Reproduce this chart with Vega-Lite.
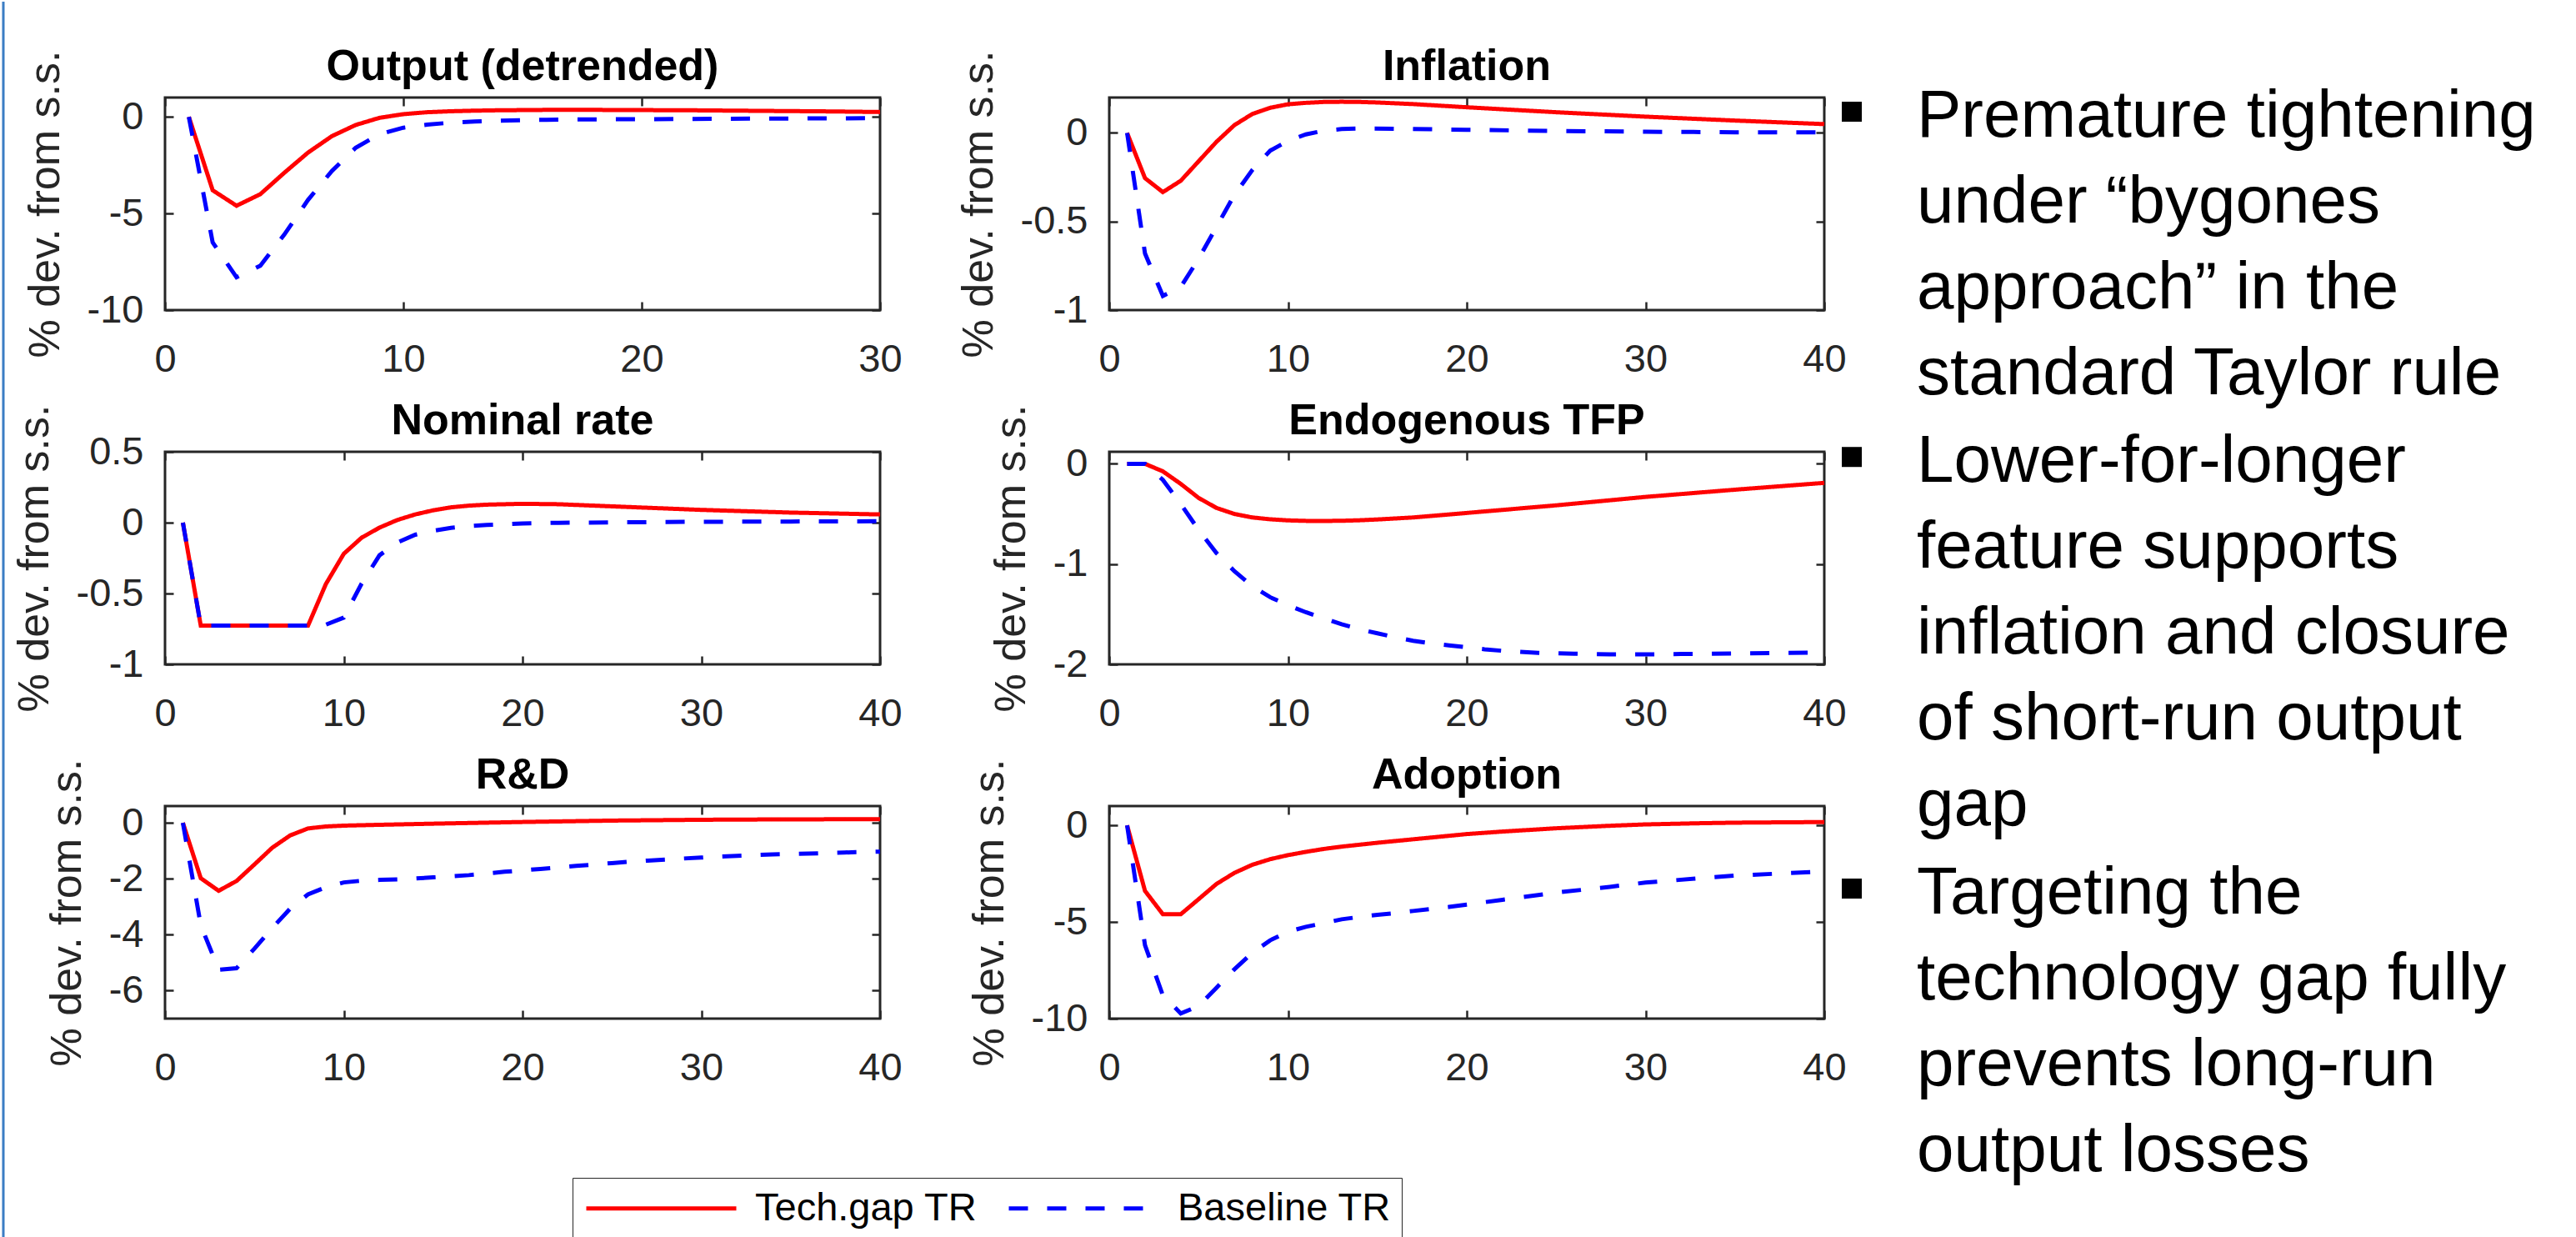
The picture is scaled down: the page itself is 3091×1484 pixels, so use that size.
{
"$schema": "https://vega.github.io/schema/vega-lite/v6.json",
"background": "#ffffff",
"padding": {"left": 2, "top": 0, "right": 0, "bottom": 0},
"spacing": -7,
"config": {
  "font": "Liberation Sans",
  "view": {"stroke": "#262626", "strokeWidth": 3},
  "axis": {"domain": false, "grid": false, "tickSize": -10, "tickWidth": 2.5, "tickColor": "#262626", "labelFont": "Liberation Sans", "labelFontSize": 47, "labelColor": "#262626", "labelFlush": false, "labelOverlap": false, "titleFont": "Liberation Sans", "titleFontSize": 52, "titleFontWeight": "normal", "titleColor": "#262626"},
  "axisBottom": {"labelPadding": 46},
  "axisLeft": {"labelPadding": 36, "titlePadding": 23},
  "title": {"font": "Liberation Sans", "fontSize": 52, "fontWeight": "bold", "color": "#000000", "anchor": "middle", "frame": "group", "baseline": "alphabetic", "offset": -47},
  "line": {"strokeWidth": 5, "strokeCap": "butt"}
},
"datasets": {
  "irf": [
    {"panel":"Output","series":"Tech.gap TR","t":1,"v":0},{"panel":"Output","series":"Tech.gap TR","t":2,"v":-3.8},{"panel":"Output","series":"Tech.gap TR","t":3,"v":-4.6},{"panel":"Output","series":"Tech.gap TR","t":4,"v":-4.0},{"panel":"Output","series":"Tech.gap TR","t":5,"v":-2.9},{"panel":"Output","series":"Tech.gap TR","t":6,"v":-1.85},{"panel":"Output","series":"Tech.gap TR","t":7,"v":-1.0},{"panel":"Output","series":"Tech.gap TR","t":8,"v":-0.42},{"panel":"Output","series":"Tech.gap TR","t":9,"v":-0.05},{"panel":"Output","series":"Tech.gap TR","t":10,"v":0.14},{"panel":"Output","series":"Tech.gap TR","t":11,"v":0.24},{"panel":"Output","series":"Tech.gap TR","t":12,"v":0.29},{"panel":"Output","series":"Tech.gap TR","t":13,"v":0.32},{"panel":"Output","series":"Tech.gap TR","t":14,"v":0.34},{"panel":"Output","series":"Tech.gap TR","t":15,"v":0.35},{"panel":"Output","series":"Tech.gap TR","t":16,"v":0.36},{"panel":"Output","series":"Tech.gap TR","t":18,"v":0.36},{"panel":"Output","series":"Tech.gap TR","t":20,"v":0.35},{"panel":"Output","series":"Tech.gap TR","t":22,"v":0.34},{"panel":"Output","series":"Tech.gap TR","t":24,"v":0.32},{"panel":"Output","series":"Tech.gap TR","t":26,"v":0.3},{"panel":"Output","series":"Tech.gap TR","t":28,"v":0.28},{"panel":"Output","series":"Tech.gap TR","t":30,"v":0.25},
    {"panel":"Output","series":"Baseline TR","t":1,"v":0},{"panel":"Output","series":"Baseline TR","t":2,"v":-6.5},{"panel":"Output","series":"Baseline TR","t":3,"v":-8.3},{"panel":"Output","series":"Baseline TR","t":4,"v":-7.7},{"panel":"Output","series":"Baseline TR","t":5,"v":-6.1},{"panel":"Output","series":"Baseline TR","t":6,"v":-4.3},{"panel":"Output","series":"Baseline TR","t":7,"v":-2.8},{"panel":"Output","series":"Baseline TR","t":8,"v":-1.6},{"panel":"Output","series":"Baseline TR","t":9,"v":-0.9},{"panel":"Output","series":"Baseline TR","t":10,"v":-0.56},{"panel":"Output","series":"Baseline TR","t":11,"v":-0.4},{"panel":"Output","series":"Baseline TR","t":12,"v":-0.3},{"panel":"Output","series":"Baseline TR","t":13,"v":-0.24},{"panel":"Output","series":"Baseline TR","t":14,"v":-0.2},{"panel":"Output","series":"Baseline TR","t":15,"v":-0.17},{"panel":"Output","series":"Baseline TR","t":16,"v":-0.15},{"panel":"Output","series":"Baseline TR","t":18,"v":-0.13},{"panel":"Output","series":"Baseline TR","t":20,"v":-0.12},{"panel":"Output","series":"Baseline TR","t":25,"v":-0.09},{"panel":"Output","series":"Baseline TR","t":30,"v":-0.07},

    {"panel":"Inflation","series":"Tech.gap TR","t":1,"v":0},{"panel":"Inflation","series":"Tech.gap TR","t":2,"v":-0.255},{"panel":"Inflation","series":"Tech.gap TR","t":3,"v":-0.334},{"panel":"Inflation","series":"Tech.gap TR","t":4,"v":-0.27},{"panel":"Inflation","series":"Tech.gap TR","t":5,"v":-0.16},{"panel":"Inflation","series":"Tech.gap TR","t":6,"v":-0.05},{"panel":"Inflation","series":"Tech.gap TR","t":7,"v":0.044},{"panel":"Inflation","series":"Tech.gap TR","t":8,"v":0.107},{"panel":"Inflation","series":"Tech.gap TR","t":9,"v":0.142},{"panel":"Inflation","series":"Tech.gap TR","t":10,"v":0.162},{"panel":"Inflation","series":"Tech.gap TR","t":11,"v":0.17},{"panel":"Inflation","series":"Tech.gap TR","t":12,"v":0.175},{"panel":"Inflation","series":"Tech.gap TR","t":13,"v":0.176},{"panel":"Inflation","series":"Tech.gap TR","t":14,"v":0.175},{"panel":"Inflation","series":"Tech.gap TR","t":15,"v":0.172},{"panel":"Inflation","series":"Tech.gap TR","t":17,"v":0.163},{"panel":"Inflation","series":"Tech.gap TR","t":20,"v":0.145},{"panel":"Inflation","series":"Tech.gap TR","t":25,"v":0.117},{"panel":"Inflation","series":"Tech.gap TR","t":30,"v":0.092},{"panel":"Inflation","series":"Tech.gap TR","t":35,"v":0.07},{"panel":"Inflation","series":"Tech.gap TR","t":40,"v":0.05},
    {"panel":"Inflation","series":"Baseline TR","t":1,"v":0},{"panel":"Inflation","series":"Baseline TR","t":2,"v":-0.68},{"panel":"Inflation","series":"Baseline TR","t":3,"v":-0.92},{"panel":"Inflation","series":"Baseline TR","t":4,"v":-0.87},{"panel":"Inflation","series":"Baseline TR","t":5,"v":-0.71},{"panel":"Inflation","series":"Baseline TR","t":6,"v":-0.53},{"panel":"Inflation","series":"Baseline TR","t":7,"v":-0.35},{"panel":"Inflation","series":"Baseline TR","t":8,"v":-0.21},{"panel":"Inflation","series":"Baseline TR","t":9,"v":-0.1},{"panel":"Inflation","series":"Baseline TR","t":10,"v":-0.045},{"panel":"Inflation","series":"Baseline TR","t":11,"v":-0.008},{"panel":"Inflation","series":"Baseline TR","t":12,"v":0.013},{"panel":"Inflation","series":"Baseline TR","t":13,"v":0.022},{"panel":"Inflation","series":"Baseline TR","t":14,"v":0.025},{"panel":"Inflation","series":"Baseline TR","t":16,"v":0.024},{"panel":"Inflation","series":"Baseline TR","t":18,"v":0.021},{"panel":"Inflation","series":"Baseline TR","t":20,"v":0.018},{"panel":"Inflation","series":"Baseline TR","t":25,"v":0.011},{"panel":"Inflation","series":"Baseline TR","t":30,"v":0.007},{"panel":"Inflation","series":"Baseline TR","t":35,"v":0.004},{"panel":"Inflation","series":"Baseline TR","t":40,"v":0.003},

    {"panel":"Nominal","series":"Tech.gap TR","t":1,"v":0},{"panel":"Nominal","series":"Tech.gap TR","t":2,"v":-0.727},{"panel":"Nominal","series":"Tech.gap TR","t":3,"v":-0.727},{"panel":"Nominal","series":"Tech.gap TR","t":4,"v":-0.727},{"panel":"Nominal","series":"Tech.gap TR","t":5,"v":-0.727},{"panel":"Nominal","series":"Tech.gap TR","t":6,"v":-0.727},{"panel":"Nominal","series":"Tech.gap TR","t":7,"v":-0.727},{"panel":"Nominal","series":"Tech.gap TR","t":8,"v":-0.727},{"panel":"Nominal","series":"Tech.gap TR","t":9,"v":-0.433},{"panel":"Nominal","series":"Tech.gap TR","t":10,"v":-0.22},{"panel":"Nominal","series":"Tech.gap TR","t":11,"v":-0.106},{"panel":"Nominal","series":"Tech.gap TR","t":12,"v":-0.035},{"panel":"Nominal","series":"Tech.gap TR","t":13,"v":0.019},{"panel":"Nominal","series":"Tech.gap TR","t":14,"v":0.058},{"panel":"Nominal","series":"Tech.gap TR","t":15,"v":0.087},{"panel":"Nominal","series":"Tech.gap TR","t":16,"v":0.108},{"panel":"Nominal","series":"Tech.gap TR","t":17,"v":0.12},{"panel":"Nominal","series":"Tech.gap TR","t":18,"v":0.127},{"panel":"Nominal","series":"Tech.gap TR","t":20,"v":0.133},{"panel":"Nominal","series":"Tech.gap TR","t":22,"v":0.13},{"panel":"Nominal","series":"Tech.gap TR","t":25,"v":0.115},{"panel":"Nominal","series":"Tech.gap TR","t":30,"v":0.09},{"panel":"Nominal","series":"Tech.gap TR","t":35,"v":0.071},{"panel":"Nominal","series":"Tech.gap TR","t":40,"v":0.058},
    {"panel":"Nominal","series":"Baseline TR","t":1,"v":0},{"panel":"Nominal","series":"Baseline TR","t":2,"v":-0.727},{"panel":"Nominal","series":"Baseline TR","t":3,"v":-0.727},{"panel":"Nominal","series":"Baseline TR","t":4,"v":-0.727},{"panel":"Nominal","series":"Baseline TR","t":5,"v":-0.727},{"panel":"Nominal","series":"Baseline TR","t":6,"v":-0.727},{"panel":"Nominal","series":"Baseline TR","t":7,"v":-0.727},{"panel":"Nominal","series":"Baseline TR","t":8,"v":-0.727},{"panel":"Nominal","series":"Baseline TR","t":9,"v":-0.72},{"panel":"Nominal","series":"Baseline TR","t":10,"v":-0.67},{"panel":"Nominal","series":"Baseline TR","t":11,"v":-0.43},{"panel":"Nominal","series":"Baseline TR","t":12,"v":-0.23},{"panel":"Nominal","series":"Baseline TR","t":13,"v":-0.14},{"panel":"Nominal","series":"Baseline TR","t":14,"v":-0.085},{"panel":"Nominal","series":"Baseline TR","t":15,"v":-0.057},{"panel":"Nominal","series":"Baseline TR","t":16,"v":-0.037},{"panel":"Nominal","series":"Baseline TR","t":17,"v":-0.024},{"panel":"Nominal","series":"Baseline TR","t":18,"v":-0.016},{"panel":"Nominal","series":"Baseline TR","t":20,"v":-0.006},{"panel":"Nominal","series":"Baseline TR","t":22,"v":-0.001},{"panel":"Nominal","series":"Baseline TR","t":25,"v":0.002},{"panel":"Nominal","series":"Baseline TR","t":30,"v":0.006},{"panel":"Nominal","series":"Baseline TR","t":35,"v":0.008},{"panel":"Nominal","series":"Baseline TR","t":40,"v":0.01},

    {"panel":"TFP","series":"Tech.gap TR","t":1,"v":0},{"panel":"TFP","series":"Tech.gap TR","t":2,"v":0},{"panel":"TFP","series":"Tech.gap TR","t":3,"v":-0.075},{"panel":"TFP","series":"Tech.gap TR","t":4,"v":-0.2},{"panel":"TFP","series":"Tech.gap TR","t":5,"v":-0.34},{"panel":"TFP","series":"Tech.gap TR","t":6,"v":-0.44},{"panel":"TFP","series":"Tech.gap TR","t":7,"v":-0.5},{"panel":"TFP","series":"Tech.gap TR","t":8,"v":-0.535},{"panel":"TFP","series":"Tech.gap TR","t":9,"v":-0.553},{"panel":"TFP","series":"Tech.gap TR","t":10,"v":-0.564},{"panel":"TFP","series":"Tech.gap TR","t":11,"v":-0.569},{"panel":"TFP","series":"Tech.gap TR","t":12,"v":-0.57},{"panel":"TFP","series":"Tech.gap TR","t":13,"v":-0.568},{"panel":"TFP","series":"Tech.gap TR","t":14,"v":-0.563},{"panel":"TFP","series":"Tech.gap TR","t":15,"v":-0.555},{"panel":"TFP","series":"Tech.gap TR","t":17,"v":-0.535},{"panel":"TFP","series":"Tech.gap TR","t":20,"v":-0.49},{"panel":"TFP","series":"Tech.gap TR","t":25,"v":-0.414},{"panel":"TFP","series":"Tech.gap TR","t":30,"v":-0.33},{"panel":"TFP","series":"Tech.gap TR","t":35,"v":-0.258},{"panel":"TFP","series":"Tech.gap TR","t":40,"v":-0.19},
    {"panel":"TFP","series":"Baseline TR","t":1,"v":0},{"panel":"TFP","series":"Baseline TR","t":2,"v":0},{"panel":"TFP","series":"Baseline TR","t":3,"v":-0.16},{"panel":"TFP","series":"Baseline TR","t":4,"v":-0.4},{"panel":"TFP","series":"Baseline TR","t":5,"v":-0.66},{"panel":"TFP","series":"Baseline TR","t":6,"v":-0.89},{"panel":"TFP","series":"Baseline TR","t":7,"v":-1.07},{"panel":"TFP","series":"Baseline TR","t":8,"v":-1.22},{"panel":"TFP","series":"Baseline TR","t":9,"v":-1.33},{"panel":"TFP","series":"Baseline TR","t":10,"v":-1.41},{"panel":"TFP","series":"Baseline TR","t":11,"v":-1.48},{"panel":"TFP","series":"Baseline TR","t":12,"v":-1.54},{"panel":"TFP","series":"Baseline TR","t":13,"v":-1.6},{"panel":"TFP","series":"Baseline TR","t":14,"v":-1.65},{"panel":"TFP","series":"Baseline TR","t":15,"v":-1.69},{"panel":"TFP","series":"Baseline TR","t":16,"v":-1.73},{"panel":"TFP","series":"Baseline TR","t":17,"v":-1.765},{"panel":"TFP","series":"Baseline TR","t":18,"v":-1.79},{"panel":"TFP","series":"Baseline TR","t":19,"v":-1.81},{"panel":"TFP","series":"Baseline TR","t":20,"v":-1.83},{"panel":"TFP","series":"Baseline TR","t":21,"v":-1.85},{"panel":"TFP","series":"Baseline TR","t":22,"v":-1.865},{"panel":"TFP","series":"Baseline TR","t":23,"v":-1.875},{"panel":"TFP","series":"Baseline TR","t":24,"v":-1.885},{"panel":"TFP","series":"Baseline TR","t":25,"v":-1.89},{"panel":"TFP","series":"Baseline TR","t":26,"v":-1.894},{"panel":"TFP","series":"Baseline TR","t":28,"v":-1.9},{"panel":"TFP","series":"Baseline TR","t":30,"v":-1.9},{"panel":"TFP","series":"Baseline TR","t":32,"v":-1.897},{"panel":"TFP","series":"Baseline TR","t":35,"v":-1.892},{"panel":"TFP","series":"Baseline TR","t":38,"v":-1.886},{"panel":"TFP","series":"Baseline TR","t":40,"v":-1.882},

    {"panel":"RD","series":"Tech.gap TR","t":1,"v":0},{"panel":"RD","series":"Tech.gap TR","t":2,"v":-1.98},{"panel":"RD","series":"Tech.gap TR","t":3,"v":-2.43},{"panel":"RD","series":"Tech.gap TR","t":4,"v":-2.08},{"panel":"RD","series":"Tech.gap TR","t":5,"v":-1.49},{"panel":"RD","series":"Tech.gap TR","t":6,"v":-0.89},{"panel":"RD","series":"Tech.gap TR","t":7,"v":-0.45},{"panel":"RD","series":"Tech.gap TR","t":8,"v":-0.2},{"panel":"RD","series":"Tech.gap TR","t":9,"v":-0.13},{"panel":"RD","series":"Tech.gap TR","t":10,"v":-0.1},{"panel":"RD","series":"Tech.gap TR","t":12,"v":-0.07},{"panel":"RD","series":"Tech.gap TR","t":15,"v":-0.03},{"panel":"RD","series":"Tech.gap TR","t":20,"v":0.03},{"panel":"RD","series":"Tech.gap TR","t":25,"v":0.08},{"panel":"RD","series":"Tech.gap TR","t":30,"v":0.11},{"panel":"RD","series":"Tech.gap TR","t":35,"v":0.125},{"panel":"RD","series":"Tech.gap TR","t":40,"v":0.13},
    {"panel":"RD","series":"Baseline TR","t":1,"v":0},{"panel":"RD","series":"Baseline TR","t":2,"v":-3.66},{"panel":"RD","series":"Baseline TR","t":3,"v":-5.25},{"panel":"RD","series":"Baseline TR","t":4,"v":-5.2},{"panel":"RD","series":"Baseline TR","t":5,"v":-4.5},{"panel":"RD","series":"Baseline TR","t":6,"v":-3.76},{"panel":"RD","series":"Baseline TR","t":7,"v":-3.07},{"panel":"RD","series":"Baseline TR","t":8,"v":-2.56},{"panel":"RD","series":"Baseline TR","t":9,"v":-2.3},{"panel":"RD","series":"Baseline TR","t":10,"v":-2.13},{"panel":"RD","series":"Baseline TR","t":11,"v":-2.07},{"panel":"RD","series":"Baseline TR","t":12,"v":-2.04},{"panel":"RD","series":"Baseline TR","t":13,"v":-2.02},{"panel":"RD","series":"Baseline TR","t":14,"v":-1.99},{"panel":"RD","series":"Baseline TR","t":15,"v":-1.95},{"panel":"RD","series":"Baseline TR","t":16,"v":-1.91},{"panel":"RD","series":"Baseline TR","t":17,"v":-1.87},{"panel":"RD","series":"Baseline TR","t":18,"v":-1.81},{"panel":"RD","series":"Baseline TR","t":19,"v":-1.75},{"panel":"RD","series":"Baseline TR","t":20,"v":-1.7},{"panel":"RD","series":"Baseline TR","t":21,"v":-1.65},{"panel":"RD","series":"Baseline TR","t":22,"v":-1.6},{"panel":"RD","series":"Baseline TR","t":23,"v":-1.54},{"panel":"RD","series":"Baseline TR","t":24,"v":-1.49},{"panel":"RD","series":"Baseline TR","t":25,"v":-1.44},{"panel":"RD","series":"Baseline TR","t":26,"v":-1.39},{"panel":"RD","series":"Baseline TR","t":27,"v":-1.35},{"panel":"RD","series":"Baseline TR","t":28,"v":-1.31},{"panel":"RD","series":"Baseline TR","t":30,"v":-1.24},{"panel":"RD","series":"Baseline TR","t":32,"v":-1.18},{"panel":"RD","series":"Baseline TR","t":34,"v":-1.13},{"panel":"RD","series":"Baseline TR","t":36,"v":-1.1},{"panel":"RD","series":"Baseline TR","t":38,"v":-1.06},{"panel":"RD","series":"Baseline TR","t":40,"v":-1.03},

    {"panel":"Adoption","series":"Tech.gap TR","t":1,"v":0},{"panel":"Adoption","series":"Tech.gap TR","t":2,"v":-3.39},{"panel":"Adoption","series":"Tech.gap TR","t":3,"v":-4.6},{"panel":"Adoption","series":"Tech.gap TR","t":4,"v":-4.6},{"panel":"Adoption","series":"Tech.gap TR","t":5,"v":-3.82},{"panel":"Adoption","series":"Tech.gap TR","t":6,"v":-3.03},{"panel":"Adoption","series":"Tech.gap TR","t":7,"v":-2.46},{"panel":"Adoption","series":"Tech.gap TR","t":8,"v":-2.04},{"panel":"Adoption","series":"Tech.gap TR","t":9,"v":-1.75},{"panel":"Adoption","series":"Tech.gap TR","t":10,"v":-1.54},{"panel":"Adoption","series":"Tech.gap TR","t":11,"v":-1.37},{"panel":"Adoption","series":"Tech.gap TR","t":12,"v":-1.22},{"panel":"Adoption","series":"Tech.gap TR","t":13,"v":-1.1},{"panel":"Adoption","series":"Tech.gap TR","t":14,"v":-1.0},{"panel":"Adoption","series":"Tech.gap TR","t":15,"v":-0.9},{"panel":"Adoption","series":"Tech.gap TR","t":17,"v":-0.72},{"panel":"Adoption","series":"Tech.gap TR","t":20,"v":-0.45},{"panel":"Adoption","series":"Tech.gap TR","t":22,"v":-0.32},{"panel":"Adoption","series":"Tech.gap TR","t":25,"v":-0.15},{"panel":"Adoption","series":"Tech.gap TR","t":28,"v":-0.02},{"panel":"Adoption","series":"Tech.gap TR","t":30,"v":0.05},{"panel":"Adoption","series":"Tech.gap TR","t":33,"v":0.11},{"panel":"Adoption","series":"Tech.gap TR","t":35,"v":0.14},{"panel":"Adoption","series":"Tech.gap TR","t":38,"v":0.16},{"panel":"Adoption","series":"Tech.gap TR","t":40,"v":0.17},
    {"panel":"Adoption","series":"Baseline TR","t":1,"v":0},{"panel":"Adoption","series":"Baseline TR","t":2,"v":-6.2},{"panel":"Adoption","series":"Baseline TR","t":3,"v":-8.8},{"panel":"Adoption","series":"Baseline TR","t":4,"v":-9.73},{"panel":"Adoption","series":"Baseline TR","t":5,"v":-9.35},{"panel":"Adoption","series":"Baseline TR","t":6,"v":-8.4},{"panel":"Adoption","series":"Baseline TR","t":7,"v":-7.45},{"panel":"Adoption","series":"Baseline TR","t":8,"v":-6.6},{"panel":"Adoption","series":"Baseline TR","t":9,"v":-5.95},{"panel":"Adoption","series":"Baseline TR","t":10,"v":-5.5},{"panel":"Adoption","series":"Baseline TR","t":11,"v":-5.25},{"panel":"Adoption","series":"Baseline TR","t":12,"v":-5.06},{"panel":"Adoption","series":"Baseline TR","t":13,"v":-4.86},{"panel":"Adoption","series":"Baseline TR","t":14,"v":-4.74},{"panel":"Adoption","series":"Baseline TR","t":15,"v":-4.63},{"panel":"Adoption","series":"Baseline TR","t":16,"v":-4.54},{"panel":"Adoption","series":"Baseline TR","t":17,"v":-4.43},{"panel":"Adoption","series":"Baseline TR","t":18,"v":-4.33},{"panel":"Adoption","series":"Baseline TR","t":19,"v":-4.22},{"panel":"Adoption","series":"Baseline TR","t":20,"v":-4.1},{"panel":"Adoption","series":"Baseline TR","t":22,"v":-3.85},{"panel":"Adoption","series":"Baseline TR","t":25,"v":-3.48},{"panel":"Adoption","series":"Baseline TR","t":28,"v":-3.18},{"panel":"Adoption","series":"Baseline TR","t":30,"v":-2.96},{"panel":"Adoption","series":"Baseline TR","t":33,"v":-2.74},{"panel":"Adoption","series":"Baseline TR","t":35,"v":-2.6},{"panel":"Adoption","series":"Baseline TR","t":38,"v":-2.47},{"panel":"Adoption","series":"Baseline TR","t":40,"v":-2.39}
  ],
  "bullets": [
    {"firstLine": 0, "text": "Premature tightening\nunder “bygones\napproach” in the\nstandard Taylor rule"},
    {"firstLine": 4, "text": "Lower-for-longer\nfeature supports\ninflation and closure\nof short-run output\ngap"},
    {"firstLine": 9, "text": "Targeting the\ntechnology gap fully\nprevents long-run\noutput losses"}
  ]
},
"hconcat": [
  {
    "width": 16, "height": 1369,
    "view": {"stroke": null},
    "data": {"values": [{}]},
    "mark": {"type": "rule", "color": "#3b7dc4", "strokeWidth": 3, "yOffset": -115, "y2Offset": 0},
    "encoding": {
      "x": {"datum": 0, "type": "quantitative", "scale": {"domain": [0, 1]}, "axis": null}
    }
  },
  {
    "columns": 2,
    "spacing": {"row": 170, "column": 275},
    "bounds": "flush",
    "resolve": {"scale": {"color": "independent", "strokeDash": "independent"}},
    "concat": [
      {
        "width": 858, "height": 255,
        "title": {"text": "Output (detrended)"},
        "data": {"name": "irf"},
        "transform": [{"filter": "datum.panel === 'Output'"}],
        "layer": [
          {"mark": {"type": "line", "strokeOpacity": 0},
           "encoding": {
             "x": {"field": "t", "type": "quantitative", "scale": {"domain": [0, 30], "nice": false, "zero": false}, "axis": {"orient": "top", "values": [0, 10, 20, 30], "labels": false, "title": null}},
             "y": {"field": "v", "type": "quantitative", "scale": {"domain": [-10, 1], "nice": false, "zero": false}, "axis": {"orient": "right", "values": [-10, -5, 0], "labels": false, "title": null}}
           }},
          {"mark": {"type": "line", "strokeWidth": 5},
           "encoding": {
             "x": {"field": "t", "type": "quantitative", "scale": {"domain": [0, 30], "nice": false, "zero": false}, "axis": {"orient": "bottom", "values": [0, 10, 20, 30], "labelExpr": "'' + datum.value", "title": null}},
             "y": {"field": "v", "type": "quantitative", "scale": {"domain": [-10, 1], "nice": false, "zero": false}, "axis": {"orient": "left", "values": [-10, -5, 0], "labelExpr": "'' + datum.value", "title": "% dev. from s.s."}},
             "color": {"field": "series", "type": "nominal", "scale": {"domain": ["Tech.gap TR", "Baseline TR"], "range": ["#ff0000", "#0000ff"]}, "legend": null},
             "strokeDash": {"field": "series", "type": "nominal", "scale": {"domain": ["Tech.gap TR", "Baseline TR"], "range": [[1, 0], [23, 23]]}, "legend": null}
           }}
        ],
        "resolve": {"axis": {"x": "independent", "y": "independent"}}
      },
      {
        "width": 858, "height": 255,
        "title": {"text": "Inflation"},
        "data": {"name": "irf"},
        "transform": [{"filter": "datum.panel === 'Inflation'"}],
        "layer": [
          {"mark": {"type": "line", "strokeOpacity": 0},
           "encoding": {
             "x": {"field": "t", "type": "quantitative", "scale": {"domain": [0, 40], "nice": false, "zero": false}, "axis": {"orient": "top", "values": [0, 10, 20, 30, 40], "labels": false, "title": null}},
             "y": {"field": "v", "type": "quantitative", "scale": {"domain": [-1, 0.2], "nice": false, "zero": false}, "axis": {"orient": "right", "values": [-1, -0.5, 0], "labels": false, "title": null}}
           }},
          {"mark": {"type": "line", "strokeWidth": 5},
           "encoding": {
             "x": {"field": "t", "type": "quantitative", "scale": {"domain": [0, 40], "nice": false, "zero": false}, "axis": {"orient": "bottom", "values": [0, 10, 20, 30, 40], "labelExpr": "'' + datum.value", "title": null}},
             "y": {"field": "v", "type": "quantitative", "scale": {"domain": [-1, 0.2], "nice": false, "zero": false}, "axis": {"orient": "left", "values": [-1, -0.5, 0], "labelExpr": "'' + datum.value", "title": "% dev. from s.s."}},
             "color": {"field": "series", "type": "nominal", "scale": {"domain": ["Tech.gap TR", "Baseline TR"], "range": ["#ff0000", "#0000ff"]}, "legend": null},
             "strokeDash": {"field": "series", "type": "nominal", "scale": {"domain": ["Tech.gap TR", "Baseline TR"], "range": [[1, 0], [23, 23]]}, "legend": null}
           }}
        ],
        "resolve": {"axis": {"x": "independent", "y": "independent"}}
      },
      {
        "width": 858, "height": 255,
        "title": {"text": "Nominal rate"},
        "data": {"name": "irf"},
        "transform": [{"filter": "datum.panel === 'Nominal'"}],
        "layer": [
          {"mark": {"type": "line", "strokeOpacity": 0},
           "encoding": {
             "x": {"field": "t", "type": "quantitative", "scale": {"domain": [0, 40], "nice": false, "zero": false}, "axis": {"orient": "top", "values": [0, 10, 20, 30, 40], "labels": false, "title": null}},
             "y": {"field": "v", "type": "quantitative", "scale": {"domain": [-1, 0.5], "nice": false, "zero": false}, "axis": {"orient": "right", "values": [-1, -0.5, 0, 0.5], "labels": false, "title": null}}
           }},
          {"mark": {"type": "line", "strokeWidth": 5},
           "encoding": {
             "x": {"field": "t", "type": "quantitative", "scale": {"domain": [0, 40], "nice": false, "zero": false}, "axis": {"orient": "bottom", "values": [0, 10, 20, 30, 40], "labelExpr": "'' + datum.value", "title": null}},
             "y": {"field": "v", "type": "quantitative", "scale": {"domain": [-1, 0.5], "nice": false, "zero": false}, "axis": {"orient": "left", "values": [-1, -0.5, 0, 0.5], "labelExpr": "'' + datum.value", "title": "% dev. from s.s."}},
             "color": {"field": "series", "type": "nominal", "scale": {"domain": ["Tech.gap TR", "Baseline TR"], "range": ["#ff0000", "#0000ff"]}, "legend": null},
             "strokeDash": {"field": "series", "type": "nominal", "scale": {"domain": ["Tech.gap TR", "Baseline TR"], "range": [[1, 0], [23, 23]]}, "legend": null}
           }}
        ],
        "resolve": {"axis": {"x": "independent", "y": "independent"}}
      },
      {
        "width": 858, "height": 255,
        "title": {"text": "Endogenous TFP"},
        "data": {"name": "irf"},
        "transform": [{"filter": "datum.panel === 'TFP'"}],
        "layer": [
          {"mark": {"type": "line", "strokeOpacity": 0},
           "encoding": {
             "x": {"field": "t", "type": "quantitative", "scale": {"domain": [0, 40], "nice": false, "zero": false}, "axis": {"orient": "top", "values": [0, 10, 20, 30, 40], "labels": false, "title": null}},
             "y": {"field": "v", "type": "quantitative", "scale": {"domain": [-2, 0.12], "nice": false, "zero": false}, "axis": {"orient": "right", "values": [-2, -1, 0], "labels": false, "title": null}}
           }},
          {"mark": {"type": "line", "strokeWidth": 5},
           "encoding": {
             "x": {"field": "t", "type": "quantitative", "scale": {"domain": [0, 40], "nice": false, "zero": false}, "axis": {"orient": "bottom", "values": [0, 10, 20, 30, 40], "labelExpr": "'' + datum.value", "title": null}},
             "y": {"field": "v", "type": "quantitative", "scale": {"domain": [-2, 0.12], "nice": false, "zero": false}, "axis": {"orient": "left", "values": [-2, -1, 0], "labelExpr": "'' + datum.value", "title": "% dev. from s.s."}},
             "color": {"field": "series", "type": "nominal", "scale": {"domain": ["Tech.gap TR", "Baseline TR"], "range": ["#ff0000", "#0000ff"]}, "legend": null},
             "strokeDash": {"field": "series", "type": "nominal", "scale": {"domain": ["Tech.gap TR", "Baseline TR"], "range": [[1, 0], [23, 23]]}, "legend": null}
           }}
        ],
        "resolve": {"axis": {"x": "independent", "y": "independent"}}
      },
      {
        "width": 858, "height": 255,
        "title": {"text": "R&D"},
        "data": {"name": "irf"},
        "transform": [{"filter": "datum.panel === 'RD'"}],
        "layer": [
          {"mark": {"type": "line", "strokeOpacity": 0},
           "encoding": {
             "x": {"field": "t", "type": "quantitative", "scale": {"domain": [0, 40], "nice": false, "zero": false}, "axis": {"orient": "top", "values": [0, 10, 20, 30, 40], "labels": false, "title": null}},
             "y": {"field": "v", "type": "quantitative", "scale": {"domain": [-7, 0.6], "nice": false, "zero": false}, "axis": {"orient": "right", "values": [-6, -4, -2, 0], "labels": false, "title": null}}
           }},
          {"mark": {"type": "line", "strokeWidth": 5},
           "encoding": {
             "x": {"field": "t", "type": "quantitative", "scale": {"domain": [0, 40], "nice": false, "zero": false}, "axis": {"orient": "bottom", "values": [0, 10, 20, 30, 40], "labelExpr": "'' + datum.value", "title": null}},
             "y": {"field": "v", "type": "quantitative", "scale": {"domain": [-7, 0.6], "nice": false, "zero": false}, "axis": {"orient": "left", "values": [-6, -4, -2, 0], "labelExpr": "'' + datum.value", "title": "% dev. from s.s."}},
             "color": {"field": "series", "type": "nominal", "scale": {"domain": ["Tech.gap TR", "Baseline TR"], "range": ["#ff0000", "#0000ff"]},
               "legend": {"orient": "none", "legendX": 489, "legendY": 446, "direction": "horizontal", "title": null, "strokeColor": "#262626", "fillColor": "#ffffff", "padding": 13, "symbolType": "M-1,0H8", "symbolSize": 1600, "symbolStrokeWidth": 5, "labelFont": "Liberation Sans", "labelFontSize": 47, "labelColor": "#000000", "labelOffset": 159, "labelLimit": 1000, "columnPadding": 27}},
             "strokeDash": {"field": "series", "type": "nominal", "scale": {"domain": ["Tech.gap TR", "Baseline TR"], "range": [[1, 0], [23, 23]]},
               "legend": {"orient": "none", "legendX": 489, "legendY": 446, "direction": "horizontal", "title": null, "strokeColor": "#262626", "fillColor": "#ffffff", "padding": 13, "symbolType": "M-1,0H8", "symbolSize": 1600, "symbolStrokeWidth": 5, "labelFont": "Liberation Sans", "labelFontSize": 47, "labelColor": "#000000", "labelOffset": 159, "labelLimit": 1000, "columnPadding": 27}}
           }}
        ],
        "resolve": {"axis": {"x": "independent", "y": "independent"}}
      },
      {
        "width": 858, "height": 255,
        "title": {"text": "Adoption"},
        "data": {"name": "irf"},
        "transform": [{"filter": "datum.panel === 'Adoption'"}],
        "layer": [
          {"mark": {"type": "line", "strokeOpacity": 0},
           "encoding": {
             "x": {"field": "t", "type": "quantitative", "scale": {"domain": [0, 40], "nice": false, "zero": false}, "axis": {"orient": "top", "values": [0, 10, 20, 30, 40], "labels": false, "title": null}},
             "y": {"field": "v", "type": "quantitative", "scale": {"domain": [-10, 1], "nice": false, "zero": false}, "axis": {"orient": "right", "values": [-10, -5, 0], "labels": false, "title": null}}
           }},
          {"mark": {"type": "line", "strokeWidth": 5},
           "encoding": {
             "x": {"field": "t", "type": "quantitative", "scale": {"domain": [0, 40], "nice": false, "zero": false}, "axis": {"orient": "bottom", "values": [0, 10, 20, 30, 40], "labelExpr": "'' + datum.value", "title": null}},
             "y": {"field": "v", "type": "quantitative", "scale": {"domain": [-10, 1], "nice": false, "zero": false}, "axis": {"orient": "left", "values": [-10, -5, 0], "labelExpr": "'' + datum.value", "title": "% dev. from s.s."}},
             "color": {"field": "series", "type": "nominal", "scale": {"domain": ["Tech.gap TR", "Baseline TR"], "range": ["#ff0000", "#0000ff"]}, "legend": null},
             "strokeDash": {"field": "series", "type": "nominal", "scale": {"domain": ["Tech.gap TR", "Baseline TR"], "range": [[1, 0], [23, 23]]}, "legend": null}
           }}
        ],
        "resolve": {"axis": {"x": "independent", "y": "independent"}}
      }
    ]
  },
  {
    "width": 790, "height": 1100,
    "view": {"stroke": null},
    "data": {"name": "bullets"},
    "encoding": {
      "x": {"datum": 0, "type": "quantitative", "scale": {"domain": [0, 1]}, "axis": null},
      "y": {"field": "firstLine", "type": "quantitative", "scale": {"domain": [0, 9], "range": [47, 979], "nice": false, "zero": false}, "axis": null}
    },
    "layer": [
      {"mark": {"type": "text", "align": "left", "baseline": "alphabetic", "font": "Liberation Sans", "fontSize": 80, "lineHeight": 103, "lineBreak": "\n", "color": "#000000"},
       "encoding": {"text": {"field": "text", "type": "nominal"}}},
      {"mark": {"type": "point", "shape": "square", "filled": true, "size": 576, "color": "#000000", "opacity": 1, "xOffset": -78, "yOffset": -30}}
    ]
  }
]
}
